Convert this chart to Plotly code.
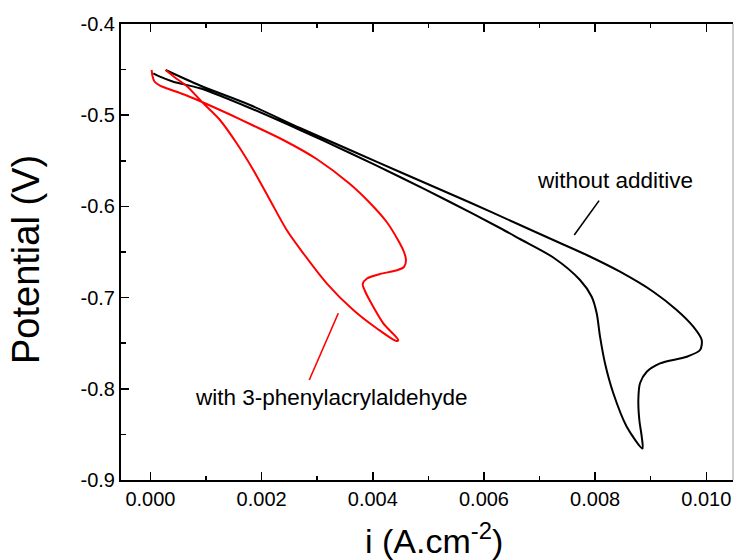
import plotly.graph_objects as go

# ---- data (current density in A/cm^2, potential in V) ----
without_additive_i = [
    0.0000504, 0.000171, 0.000410, 0.000891, 0.001790, 0.002690, 0.003589, 0.004489,
    0.005389, 0.006288, 0.006648, 0.007247, 0.007728, 0.007938, 0.008028, 0.008088,
    0.008177, 0.008327, 0.008568, 0.008852,
    0.008838, 0.008795, 0.008777, 0.008807, 0.008928, 0.009167, 0.009647, 0.009887,
    0.009917, 0.009766, 0.009467, 0.009046, 0.008447, 0.007848, 0.007247, 0.006648,
    0.005748, 0.004489, 0.003589, 0.002690, 0.001790, 0.000891, 0.000273,
]
without_additive_E = [
    -0.45406, -0.45779, -0.46327, -0.47050, -0.49211, -0.51623, -0.54145, -0.56776,
    -0.59518, -0.62368, -0.63575, -0.65603, -0.68070, -0.69901, -0.71721, -0.74287,
    -0.77204, -0.80493, -0.84156, -0.86546,
    -0.85252, -0.83421, -0.81228, -0.79397, -0.78125, -0.77204, -0.76480, -0.75746,
    -0.74649, -0.73191, -0.71360, -0.69353, -0.67160, -0.65329, -0.63684, -0.62039,
    -0.59572, -0.56228, -0.53816, -0.51404, -0.48882, -0.46743, -0.45044,
]

with_additive_i = [
    0.0000216, 0.000036, 0.000072, 0.000171, 0.000351, 0.000651, 0.001011, 0.001430,
    0.001790, 0.002389, 0.002990, 0.003589, 0.003949, 0.004250, 0.004453, 0.004561,
    0.004597, 0.004561, 0.004417, 0.004129, 0.003895, 0.003818, 0.003859, 0.003931,
    0.004189, 0.004458,
    0.004426, 0.004075, 0.003649, 0.003170, 0.002749, 0.002451, 0.002150, 0.001850,
    0.001551, 0.001250, 0.000950, 0.000651, 0.000441, 0.000273,
]
with_additive_E = [
    -0.45044, -0.45702, -0.46305, -0.46765, -0.47182, -0.47840, -0.48772, -0.49923,
    -0.50965, -0.52719, -0.54803, -0.57544, -0.59627, -0.61711, -0.63684, -0.65000,
    -0.65877, -0.66645, -0.67029, -0.67412, -0.67906, -0.68509, -0.69276, -0.70154,
    -0.72818, -0.74649,
    -0.74759, -0.73388, -0.71360, -0.68432, -0.65143, -0.62588, -0.59298, -0.56009,
    -0.53081, -0.50526, -0.48695, -0.46798, -0.45866, -0.45044,
]

x_tick_vals = [0.000, 0.002, 0.004, 0.006, 0.008, 0.010]
x_tick_text = ["0.000", "0.002", "0.004", "0.006", "0.008", "0.010"]
y_tick_vals = [-0.9, -0.8, -0.7, -0.6, -0.5, -0.4]
y_tick_text = ["-0.9", "-0.8", "-0.7", "-0.6", "-0.5", "-0.4"]

label_without = "without additive"
label_without_pos = (0.008357, -0.5715)
pointer_without = [(0.008071, -0.5937), (0.007624, -0.6314)]

label_with = "with 3-phenylacrylaldehyde"
label_with_pos = (0.003244, -0.8095)
pointer_with = [(0.003379, -0.7172), (0.002857, -0.7904)]

x_title = "i (A.cm<sup>-2</sup>)"
y_title = "Potential (V)"

FONT = "Arial, Liberation Sans, Helvetica, sans-serif"

fig = go.Figure()
fig.add_trace(go.Scatter(
    x=without_additive_i, y=without_additive_E, mode="lines",
    line=dict(color="black", width=2, shape="spline", smoothing=0.8),
    name=label_without, showlegend=False, hoverinfo="skip"))
fig.add_trace(go.Scatter(
    x=with_additive_i, y=with_additive_E, mode="lines",
    line=dict(color="#ff0000", width=2, shape="spline", smoothing=0.8),
    name=label_with, showlegend=False, hoverinfo="skip"))

# pointer lines
for (p0, p1), col in ((pointer_without, "black"), (pointer_with, "#ff0000")):
    fig.add_shape(type="line", xref="x", yref="y", x0=p0[0], y0=p0[1], x1=p1[0], y1=p1[1],
                  line=dict(color=col, width=1.6))

# right border (lighter, as in reference)
fig.add_shape(type="line", xref="paper", yref="paper", x0=1, x1=1, y0=0, y1=1,
              line=dict(color="#9a9a9a", width=1))

fig.add_annotation(x=label_without_pos[0], y=label_without_pos[1], text=label_without,
                   showarrow=False, xanchor="center", yanchor="middle",
                   font=dict(family=FONT, size=22.5, color="black"))
fig.add_annotation(x=label_with_pos[0], y=label_with_pos[1], text=label_with,
                   showarrow=False, xanchor="center", yanchor="middle",
                   font=dict(family=FONT, size=22.5, color="black"))

# axis titles (paper coordinates; plot area is 612 x 456 px)
fig.add_annotation(xref="paper", yref="paper", x=(434 - 121) / 612, y=(480 - 538) / 456,
                   text=x_title, showarrow=False, xanchor="center", yanchor="middle",
                   font=dict(family=FONT, size=34, color="black"))
fig.add_annotation(xref="paper", yref="paper", x=(26 - 121) / 612, y=(480 - 260) / 456,
                   text=y_title, showarrow=False, textangle=-90,
                   xanchor="center", yanchor="middle",
                   font=dict(family=FONT, size=38, color="black"))

fig.update_xaxes(
    range=[-0.00053, 0.01048], tickvals=x_tick_vals, ticktext=x_tick_text,
    ticks="inside", ticklen=8, tickwidth=1.5, tickcolor="black",
    minor=dict(dtick=0.001, tick0=0, ticks="inside", ticklen=4, tickwidth=1.5, tickcolor="black"),
    showline=True, linecolor="black", linewidth=2, mirror="ticks",
    showgrid=False, zeroline=False,
    tickfont=dict(family=FONT, size=20, color="black"),
)
fig.update_yaxes(
    range=[-0.9, -0.4], tickvals=y_tick_vals, ticktext=y_tick_text,
    ticks="inside", ticklen=8, tickwidth=1.5, tickcolor="black",
    minor=dict(dtick=0.05, tick0=-0.9, ticks="inside", ticklen=5, tickwidth=1.5, tickcolor="black"),
    showline=True, linecolor="black", linewidth=2, mirror=False,
    showgrid=False, zeroline=False,
    tickfont=dict(family=FONT, size=20, color="black"),
)
fig.update_layout(
    width=734, height=560,
    margin=dict(l=121, r=1, t=24, b=80, pad=0),
    paper_bgcolor="white", plot_bgcolor="white",
    showlegend=False,
)
# remove the page's default body margin so the 734x560 figure fills the window exactly
fig.write_html("out.html",
               config={"displayModeBar": False, "staticPlot": True},
               post_script="document.body.style.margin='0';document.body.style.overflow='hidden';")
